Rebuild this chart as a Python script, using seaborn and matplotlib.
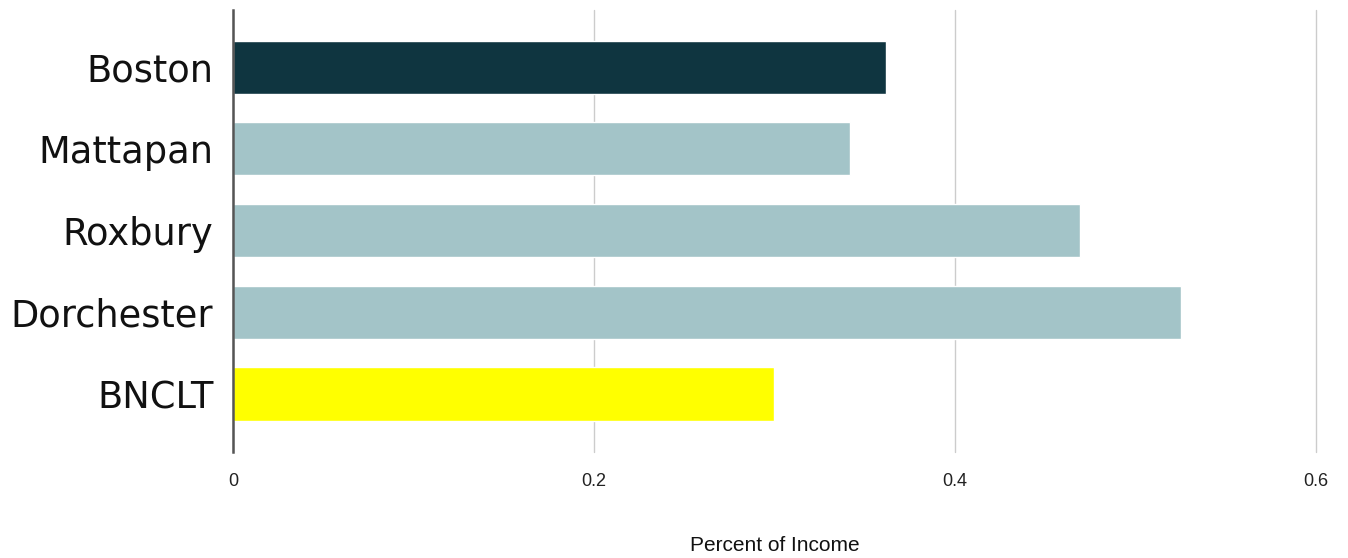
import matplotlib.pyplot as plt
import seaborn as sns
import pandas as pd

# Housing cost burden by area
areas = ['Boston', 'Mattapan', 'Roxbury', 'Dorchester', 'BNCLT']
share_of_income = [0.362, 0.342, 0.469, 0.525, 0.300]
bar_colors = ['#0f3540', '#a3c4c8', '#a3c4c8', '#a3c4c8', '#ffff00']
x_ticks = [0, 0.2, 0.4, 0.6]
x_tick_labels = ['0', '0.2', '0.4', '0.6']

df = pd.DataFrame({'area': areas, 'share': share_of_income})

sns.set_style('white')

fig = plt.figure(figsize=(13.48, 5.58), dpi=100)
ax = fig.add_axes([0.1728, 0.19, 0.9763 - 0.1728, 0.792])

sns.barplot(data=df, x='share', y='area', hue='area', order=areas,
            palette=dict(zip(areas, bar_colors)), width=0.65,
            legend=False, ax=ax, saturation=1)

ax.set_xlim(0, 0.6)
ax.set_ylim(4.71, -0.70)
ax.set_xticks(x_ticks)
ax.set_xticklabels(x_tick_labels, fontsize=13, family='Liberation Sans', color='#222222')
ax.tick_params(axis='y', labelsize=26.5, length=0, pad=14, labelcolor='#111111')
ax.tick_params(axis='x', length=0, pad=15)
for lbl in ax.get_yticklabels():
    lbl.set_family('DejaVu Sans')

ax.xaxis.grid(True, color='#cccccc', linewidth=1)
for gl in ax.get_xgridlines():
    gl.set_clip_on(False)
ax.set_axisbelow(True)
for side in ['top', 'right', 'bottom']:
    ax.spines[side].set_visible(False)
ax.spines['left'].set_color('#555555')
ax.spines['left'].set_linewidth(1.8)

ax.set_ylabel('')
ax.set_xlabel('Percent of Income', fontsize=15, family='Liberation Sans',
              color='#111111', labelpad=33)

plt.savefig('out.png', dpi=100)
